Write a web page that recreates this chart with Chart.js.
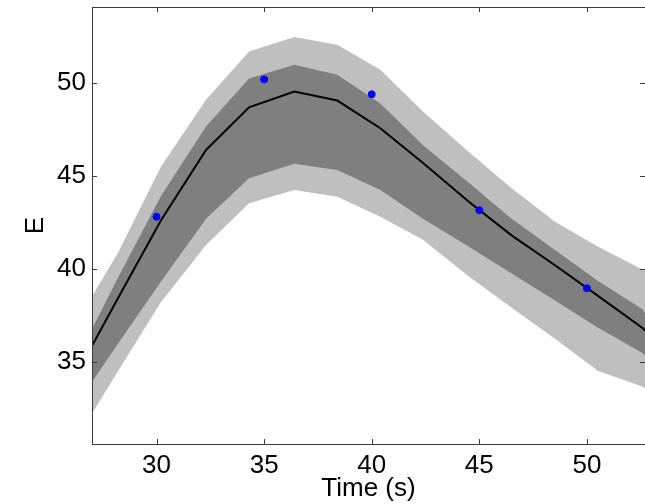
<!DOCTYPE html>
<html>
<head>
<meta charset="utf-8">
<script src="https://cdn.jsdelivr.net/npm/chart.js@4"></script>
<style>
  body { margin: 0; background: #fff; }
  canvas { display: block; }
</style>
</head>
<body>
<canvas id="chart" width="645" height="504"></canvas>
<script>
// time grid of the fitted curve (s)
const times = [27, 28.2, 30.2, 32.3, 34.3, 36.4, 38.4, 40.4, 42.4, 44.5, 46.5, 48.5, 50.5, 52.6, 52.7];
const meanE = [35.85, 38.4, 42.6, 46.4, 48.7, 49.55, 49.06, 47.57, 45.68, 43.62, 41.8, 40.2, 38.55, 36.8, 36.65];
const innerUpper = [36.75, 39.5, 43.9, 47.66, 50.25, 50.99, 50.45, 48.9, 46.64, 44.65, 42.7, 41.02, 39.35, 37.8, 37.6];
const innerLower = [33.9, 35.94, 39.3, 42.7, 44.88, 45.65, 45.32, 44.24, 42.68, 41.2, 39.75, 38.3, 36.84, 35.45, 35.3];
const outerUpper = [38.5, 40.85, 45.5, 49.1, 51.7, 52.48, 52.07, 50.72, 48.45, 46.3, 44.33, 42.55, 41.2, 39.95, 39.9];
const outerLower = [32.2, 34.47, 38.2, 41.28, 43.53, 44.24, 43.88, 42.8, 41.55, 39.6, 37.9, 36.24, 34.5, 33.65, 33.55];

// measured points
const obsTimes = [30, 35, 40, 45, 50];
const obsE = [42.8, 50.2, 49.4, 43.15, 38.95];

const xTicks = [30, 35, 40, 45, 50];
const yTicks = [35, 40, 45, 50];

const FONT = "'Liberation Sans', Arial, Helvetica, sans-serif";

const pts = (xs, ys) => xs.map((x, i) => ({ x: x, y: ys[i] }));

const bandSet = (ys, color, fill) => ({
  data: pts(times, ys),
  borderColor: 'rgba(0,0,0,0)',
  borderWidth: 0,
  backgroundColor: color,
  pointRadius: 0,
  fill: fill,
  tension: 0
});

// matlab style box with inward ticks (right side falls just off the canvas)
const boxPlugin = {
  id: 'box',
  afterDraw(chart) {
    const { ctx, chartArea: a, scales } = chart;
    ctx.save();
    ctx.strokeStyle = '#3a3a3a';
    ctx.lineWidth = 1;
    ctx.strokeRect(a.left + 0.5, a.top + 0.5, a.right - a.left + 1, a.bottom - a.top);
    ctx.beginPath();
    const len = 5;
    xTicks.forEach(v => {
      const px = Math.round(scales.x.getPixelForValue(v)) + 0.5;
      ctx.moveTo(px, a.bottom); ctx.lineTo(px, a.bottom - len);
      ctx.moveTo(px, a.top); ctx.lineTo(px, a.top + len);
    });
    yTicks.forEach(v => {
      const py = Math.round(scales.y.getPixelForValue(v)) + 0.5;
      ctx.moveTo(a.left, py); ctx.lineTo(a.left + len, py);
      ctx.moveTo(a.right, py); ctx.lineTo(a.right - len, py);
    });
    ctx.stroke();
    ctx.restore();
  }
};

new Chart(document.getElementById('chart').getContext('2d'), {
  type: 'line',
  data: {
    datasets: [
      {
        data: pts(obsTimes, obsE),
        showLine: false,
        pointRadius: 3.5,
        pointBackgroundColor: '#0000ff',
        pointBorderColor: '#0000ff',
        pointBorderWidth: 1
      },
      {
        data: pts(times, meanE),
        borderColor: '#000',
        borderWidth: 2,
        pointRadius: 0,
        fill: false,
        tension: 0
      },
      bandSet(innerUpper, '#7f7f7f', '+1'),
      bandSet(innerLower, '#7f7f7f', false),
      bandSet(outerUpper, '#bfbfbf', '+1'),
      bandSet(outerLower, '#bfbfbf', false)
    ]
  },
  options: {
    responsive: false,
    animation: false,
    layout: { autoPadding: false, padding: { top: 7, right: 0, bottom: 0, left: 0 } },
    plugins: {
      legend: { display: false },
      tooltip: { enabled: false }
    },
    scales: {
      x: {
        type: 'linear',
        min: 27,
        max: 52.7,
        grid: { display: false, drawTicks: false, tickLength: 0 },
        border: { display: false },
        ticks: {
          stepSize: 5,
          includeBounds: false,
          color: '#000',
          padding: 6,
          maxRotation: 0,
          font: { family: FONT, size: 26 }
        },
        title: {
          display: true,
          text: 'Time (s)',
          color: '#000',
          padding: { top: 0, bottom: 0 },
          font: { family: FONT, size: 26, lineHeight: 1.2 }
        },
        afterFit: s => {
          s.height = 60;
          s.paddingLeft = 0;
          s.paddingRight = 0;
        }
      },
      y: {
        min: 30.56,
        max: 54.1,
        grid: { display: false, drawTicks: false, tickLength: 0 },
        border: { display: false },
        ticks: {
          stepSize: 5,
          includeBounds: false,
          color: '#000',
          padding: 6,
          font: { family: FONT, size: 26 }
        },
        title: {
          display: true,
          text: 'E',
          color: '#000',
          padding: { top: 20, bottom: 0 },
          font: { family: FONT, size: 26, lineHeight: 1.2 }
        },
        afterFit: s => {
          s.width = 92;
          s.paddingTop = 0;
          s.paddingBottom = 0;
        }
      }
    }
  },
  plugins: [boxPlugin]
});
</script>
</body>
</html>
